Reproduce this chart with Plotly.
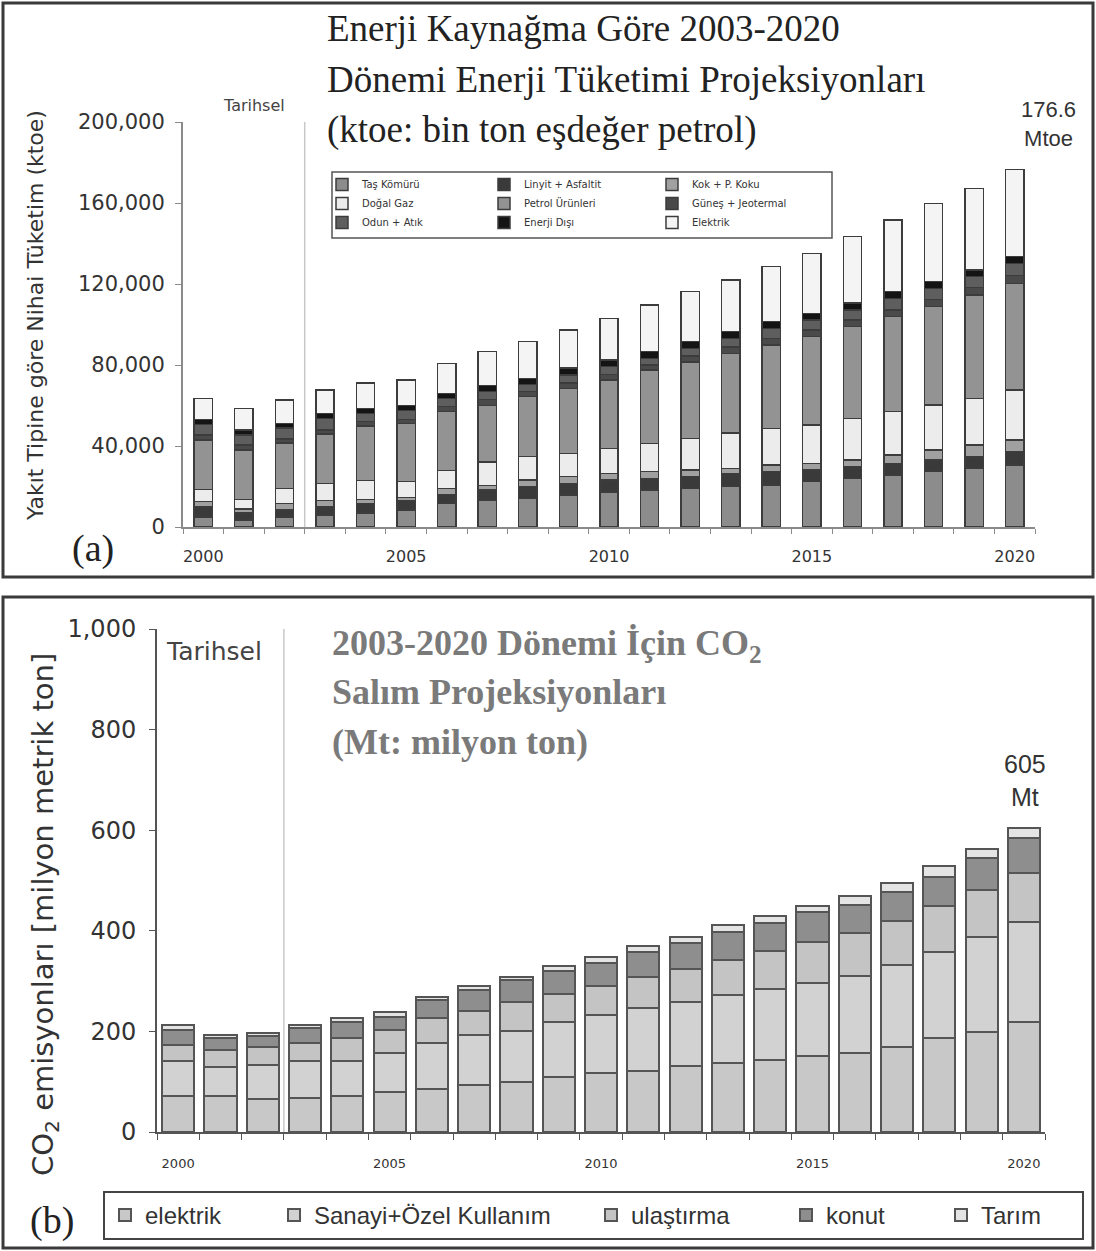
import plotly.graph_objects as go

W, H = 1096, 1251

years = list(range(2000, 2021))
separator_year = 2002.5

# (a) Final energy consumption by fuel type, ktoe (stacked bottom -> top)
tas_komuru = [5000, 3500, 5000, 6000, 7000, 8500, 11500, 13300, 14200, 15800, 17400,
              18300, 19100, 19900, 20700, 22400, 24000, 25700, 27300, 29000, 30600]
linyit_asfaltit = [5000, 3500, 3500, 4000, 4500, 4500, 4500, 5000, 5700, 5800, 5800,
                   5700, 5800, 6600, 6600, 5700, 5800, 5700, 5800, 5700, 6600]
kok_p_koku = [2500, 2000, 3000, 3000, 2000, 1500, 3000, 2200, 3300, 3300, 3300,
              3300, 3200, 2500, 3300, 3300, 3300, 4200, 4900, 5800, 5800]
dogal_gaz = [6000, 4500, 7500, 8500, 9500, 8000, 9000, 11500, 11500, 11500, 12300,
             14000, 15700, 17300, 18100, 19000, 20600, 21400, 22200, 23000, 24700]
petrol_urunleri = [24500, 24500, 22500, 24500, 27000, 28500, 29000, 28000, 29700, 32100, 33800,
                   36200, 37800, 39500, 41200, 43600, 45200, 46900, 48600, 51100, 52600]
gunes_jeotermal = [2500, 2500, 2000, 2000, 2000, 2000, 2500, 3000, 2500, 2500, 2800,
                   2500, 2800, 3000, 3300, 3300, 3300, 3300, 3500, 3600, 3800]
odun_atik = [5000, 5000, 5500, 5500, 4000, 4500, 4000, 4000, 3500, 4100, 3800,
             3300, 3800, 4400, 4900, 4900, 5000, 5700, 5600, 5400, 6100]
enerji_disi = [2500, 2500, 2200, 2500, 2500, 2500, 2500, 3000, 3000, 3300, 3300,
               3300, 3300, 3300, 3300, 3300, 3300, 3300, 3300, 3300, 3300]
elektrik_a = [10500, 10600, 11500, 11700, 12500, 12600, 14800, 16600, 18100, 18900, 20500,
              23000, 24700, 25500, 27200, 29600, 32900, 35400, 38600, 40300, 43100]

# (b) CO2 emissions by sector, Mt (stacked bottom -> top)
co2_elektrik = [72, 71.6, 65, 67, 71.6, 80.2, 84.8, 93.4, 100, 108.7, 116.6,
                121.9, 131.2, 136.5, 143.1, 151.1, 156.4, 169.6, 186.2, 199.5, 219.3]
co2_sanayi = [69, 58.3, 68.3, 74.2, 69.6, 76.2, 92.8, 99.4, 101.4, 110.7, 116,
              124, 127.9, 135.9, 140.5, 145.8, 153.7, 162.4, 172.3, 187.5, 197.5]
co2_ulastirma = [32, 33.1, 36.4, 36.4, 45, 46.4, 48.4, 47.2, 57.6, 54.3, 57.7,
                 62.9, 64.3, 69.5, 76.2, 81.5, 84.9, 88.1, 90.8, 94.1, 97.4]
co2_konut = [30, 23, 21.3, 28.5, 33.2, 26.5, 36.4, 42.4, 43.1, 47, 45,
             49.7, 53, 56.4, 55, 59.6, 56.3, 57.7, 58.3, 63.9, 69.6]
co2_tarim = [10, 6.8, 6.5, 6.6, 6.6, 9.9, 6.6, 7.9, 6.6, 9.3, 13.3,
             11.3, 11.9, 13.2, 14.6, 11.3, 17.9, 17.9, 21.2, 17, 21.2]

x_tick_years = [2000, 2005, 2010, 2015, 2020]


def px(x):
    return x / W


def py(y):
    return 1 - y / H


fig = go.Figure()

# ---- panel (a) bars, split over three legend columns ----
series_a = [
    ("Taş Kömürü", tas_komuru, "#8c8c8c", "legend"),
    ("Linyit + Asfaltit", linyit_asfaltit, "#3a3a3a", "legend2"),
    ("Kok + P. Koku", kok_p_koku, "#a0a0a0", "legend3"),
    ("Doğal Gaz", dogal_gaz, "#ececec", "legend"),
    ("Petrol Ürünleri", petrol_urunleri, "#939393", "legend2"),
    ("Güneş + Jeotermal", gunes_jeotermal, "#4a4a4a", "legend3"),
    ("Odun + Atık", odun_atik, "#5e5e5e", "legend"),
    ("Enerji Dışı", enerji_disi, "#141414", "legend2"),
    ("Elektrik", elektrik_a, "#f4f4f4", "legend3"),
]
for name, vals, color, leg in series_a:
    fig.add_trace(go.Bar(
        x=years, y=vals, name=name, width=0.45,
        marker=dict(color=color, line=dict(color="#3c3c3c", width=1.5)),
        xaxis="x", yaxis="y", legend=leg,
    ))

# ---- panel (b) bars ----
series_b = [
    ("elektrik", co2_elektrik, "#c8c8c8", 124),
    ("Sanayi+Özel Kullanım", co2_sanayi, "#d2d2d2", 272),
    ("ulaştırma", co2_ulastirma, "#c4c4c4", 150),
    ("konut", co2_konut, "#8e8e8e", 110),
    ("Tarım", co2_tarim, "#e4e4e4", 96),
]
for name, vals, color, lw in series_b:
    fig.add_trace(go.Bar(
        x=years, y=vals, name=name, width=0.76, legendwidth=lw,
        marker=dict(color=color, line=dict(color="#555555", width=2)),
        xaxis="x2", yaxis="y2", legend="legend4",
    ))

total_a_2020 = sum(s[1][-1] for s in series_a)
total_b_2020 = sum(s[1][-1] for s in series_b)

tick_font = dict(family="DejaVu Sans", color="#333333")
small_legend = dict(orientation="v", bgcolor="rgba(0,0,0,0)", borderwidth=0,
                    traceorder="normal", xanchor="left", yanchor="top",
                    font=dict(family="DejaVu Sans", size=10, color="#333333"),
                    itemclick=False, itemdoubleclick=False)

fig.update_layout(
    width=W, height=H,
    margin=dict(l=0, r=0, t=0, b=0, pad=0, autoexpand=False),
    paper_bgcolor="white", plot_bgcolor="white",
    barmode="stack",
    xaxis=dict(
        domain=[px(183), px(1035)], anchor="y", range=[1999.5, 2020.5],
        tickmode="array", tickvals=x_tick_years, ticks="",
        tickfont=dict(tick_font, size=16), ticklabelstandoff=14,
        showline=True, linecolor="#8a8a8a", linewidth=2,
        showgrid=False, zeroline=False, automargin=False,
        minor=dict(tick0=1999.5, dtick=1, ticks="outside", ticklen=5,
                   tickcolor="#8a8a8a", showgrid=False),
    ),
    yaxis=dict(
        domain=[py(527), py(122)], anchor="x", range=[0, 200000],
        tickmode="array", tickvals=list(range(0, 200001, 40000)), tickformat=",d",
        ticks="outside", ticklen=6, tickcolor="#8a8a8a",
        tickfont=dict(tick_font, size=21), ticklabelstandoff=6,
        showline=True, linecolor="#8a8a8a", linewidth=2,
        showgrid=False, zeroline=False, automargin=False,
    ),
    xaxis2=dict(
        domain=[px(157), px(1045)], anchor="y2", range=[1999.5, 2020.5],
        tickmode="array", tickvals=x_tick_years, ticks="",
        tickfont=dict(tick_font, size=13), ticklabelstandoff=18,
        showline=True, linecolor="#555555", linewidth=2,
        showgrid=False, zeroline=False, automargin=False,
        minor=dict(tick0=1999.5, dtick=1, ticks="outside", ticklen=6,
                   tickcolor="#555555", showgrid=False),
    ),
    yaxis2=dict(
        domain=[py(1132), py(629)], anchor="x2", range=[0, 1000],
        tickmode="array", tickvals=list(range(0, 1001, 200)), tickformat=",d",
        ticks="outside", ticklen=6, tickcolor="#555555",
        tickfont=dict(tick_font, size=24), ticklabelstandoff=8,
        showline=True, linecolor="#555555", linewidth=2,
        showgrid=False, zeroline=False, automargin=False,
    ),
    legend=dict(small_legend, x=px(322), y=py(170)),
    legend2=dict(small_legend, x=px(484), y=py(170)),
    legend3=dict(small_legend, x=px(652), y=py(170)),
    legend4=dict(x=px(103), y=py(1191), xanchor="left", yanchor="top",
                 orientation="h", traceorder="normal",
                 bgcolor="white", bordercolor="#444444", borderwidth=2,
                 font=dict(family="Liberation Sans", size=24, color="#333333"),
                 itemclick=False, itemdoubleclick=False),
)

shapes = [
    # panel frames
    dict(type="rect", xref="paper", yref="paper", x0=px(3), x1=px(1093), y0=py(577), y1=py(3),
         line=dict(color="#3a3a3a", width=3)),
    dict(type="rect", xref="paper", yref="paper", x0=px(3), x1=px(1093), y0=py(1248), y1=py(597),
         line=dict(color="#3a3a3a", width=3)),
    # legend frame for (a)
    dict(type="rect", xref="paper", yref="paper", x0=px(332), x1=px(832), y0=py(238), y1=py(172),
         line=dict(color="#555555", width=1.5), fillcolor="white", layer="above"),
    # historical / projection separators
    dict(type="line", xref="x", yref="y domain", x0=separator_year, x1=separator_year, y0=0, y1=1,
         line=dict(color="#c8c8c8", width=1.5)),
    dict(type="line", xref="x2", yref="y2 domain", x0=separator_year, x1=separator_year, y0=0, y1=1,
         line=dict(color="#c8c8c8", width=1.5)),
]

serif = "Liberation Serif"
ann = []


def text(x, y, t, size, color="#222222", family=serif, xanchor="left", bold=False, angle=0):
    ann.append(dict(xref="paper", yref="paper", x=px(x), y=py(y), text=t, showarrow=False,
                    xanchor=xanchor, yanchor="middle", textangle=angle,
                    font=dict(family=family, size=size, color=color,
                              weight="bold" if bold else "normal")))


# titles
text(325, 28, "Enerji Kaynağma Göre 2003-2020", 37)
text(325, 80, "Dönemi Enerji Tüketimi Projeksiyonları", 37)
text(325, 130, "(ktoe: bin ton eşdeğer petrol)", 37)
text(330, 645, "2003-2020 Dönemi İçin CO<sub>2</sub>", 36, color="#7a7a7a", bold=True)
text(330, 692, "Salım Projeksiyonları", 36, color="#7a7a7a", bold=True)
text(330, 742, "(Mt: milyon ton)", 36, color="#7a7a7a", bold=True)

# era labels
text(254, 105, "Tarihsel", 16, color="#444444", family="DejaVu Sans", xanchor="center")
text(164, 651, "Tarihsel", 25, color="#444444", family="DejaVu Sans")

# end-of-period totals
text(1048, 124, f"{total_a_2020 / 1000:.1f}<br>Mtoe", 22, color="#333333",
     family="Liberation Sans", xanchor="center")
text(1025, 780, f"{round(total_b_2020)}<br>Mt", 25, color="#333333",
     family="Liberation Sans", xanchor="center")

# panel tags
text(93, 548, "(a)", 38, xanchor="center")
text(52, 1220, "(b)", 38, xanchor="center")

# y-axis titles
text(35, 316, "Yakıt Tipine göre Nihai Tüketim (ktoe)", 22, color="#333333",
     family="DejaVu Sans", xanchor="center", angle=-90)
text(45, 915, "CO<sub>2</sub> emisyonları [milyon metrik ton]", 29, color="#333333",
     family="DejaVu Sans", xanchor="center", angle=-90)

fig.update_layout(shapes=shapes, annotations=ann)

fig.write_html("out.html")
